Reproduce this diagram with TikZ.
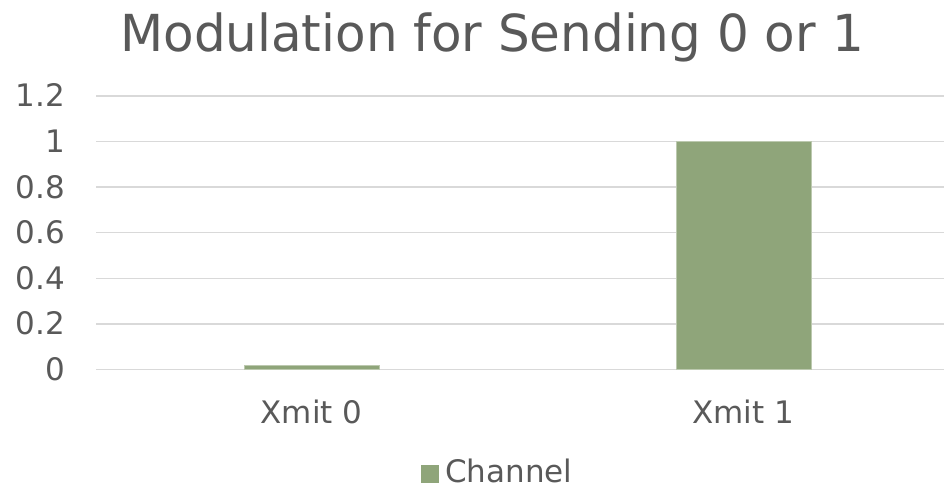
\documentclass[tikz,border=0pt]{standalone}
\usepackage{fontspec}
\setmainfont{DejaVu Sans}
\definecolor{txt}{HTML}{595959}
\definecolor{grid}{HTML}{D9D9D9}
\definecolor{barfill}{HTML}{8FA57A}
\begin{document}
\begin{tikzpicture}[x=1pt,y=-1pt,
  gridline/.style={draw=grid,line width=1.5pt},
  ticklabel/.style={anchor=base east,inner sep=0pt,text=txt,font=\fontsize{31}{31}\selectfont},
  catlabel/.style={anchor=base,inner sep=0pt,text=txt,font=\fontsize{31}{31}\selectfont},
  barbox/.style={fill=barfill,draw=barfill!60!white,line width=0.6pt}]
\useasboundingbox (0,0) rectangle (944,487);
% title
\node[anchor=base,inner sep=0pt,text=txt] (title) at (492,52)
  {\scalebox{0.98}[1]{\fontsize{51}{51}\selectfont Modulation for Sending 0 or 1}};
% horizontal grid lines and value labels
\foreach \v/\lab [count=\i] in {0/0,0.2/0.2,0.4/0.4,0.6/0.6,0.8/0.8,1/1,1.2/1.2}{
  \pgfmathsetmacro{\yy}{369.5-\v*228}
  \draw[gridline] (96,\yy) -- (944,\yy);
  \node[ticklabel] (tick\i) at (65,\yy+10.9) {\lab};
}
% bars
\draw[barbox] (244,365) rectangle (379,369.5);
\draw[barbox] (676,141.5) rectangle (811,369.5);
% category labels
\node[catlabel] (cat0) at (311.5,423) {Xmit 0};
\node[catlabel] (cat1) at (743,423) {Xmit 1};
% legend
\node[fill=barfill,minimum size=18pt,inner sep=0pt] (legkey) at (430,474) {};
\node[anchor=base west,inner sep=0pt,text=txt,font=\fontsize{31}{31}\selectfont] (legtext) at (445,482) {Channel};
\end{tikzpicture}
\end{document}
